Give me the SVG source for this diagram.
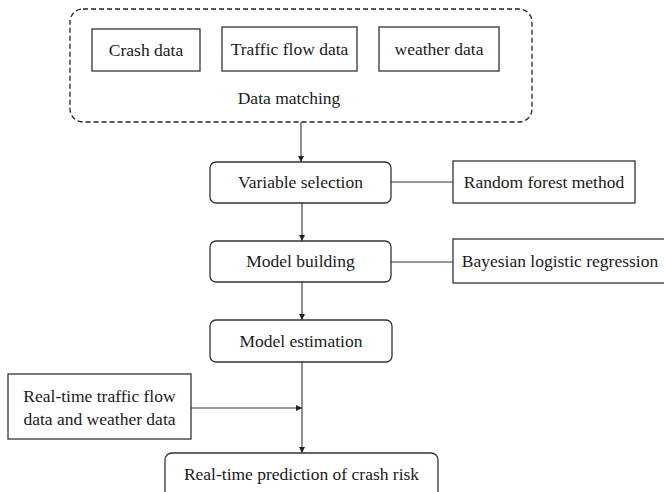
<svg xmlns="http://www.w3.org/2000/svg" width="664" height="492" viewBox="0 0 664 492">
<style>
.box{fill:#fff;stroke:#333;stroke-width:1.3}
text{font-family:'Liberation Serif','Times New Roman',serif;font-size:17.5px;fill:#1a1a1a;text-anchor:middle}
.ln{stroke:#333;stroke-width:1.1;fill:none}
.dash{fill:none;stroke:#222;stroke-width:1.3;stroke-dasharray:5 3}
</style>
<defs>
<marker id="ah" viewBox="0 0 10 10" refX="10" refY="5" markerWidth="6" markerHeight="6" orient="auto" markerUnits="userSpaceOnUse">
<path d="M0,0 L10,5 L0,10 z" fill="#222"/>
</marker>
</defs>
<rect width="664" height="492" fill="#fff"/>
<g id="data-matching">
<rect class="dash" x="70" y="9" width="462" height="113" rx="13"/>
<text x="289" y="104">Data matching</text>
</g>
<g id="crash-data">
<rect class="box" x="92" y="29" width="108" height="42"/>
<text x="146" y="56">Crash data</text>
</g>
<g id="traffic-flow-data">
<rect class="box" x="222" y="27" width="135" height="44"/>
<text x="289.5" y="55">Traffic flow data</text>
</g>
<g id="weather-data">
<rect class="box" x="379" y="27" width="120" height="44"/>
<text x="439" y="55">weather data</text>
</g>
<g id="variable-selection">
<rect class="box" x="210" y="162" width="181" height="41" rx="6"/>
<text x="300.5" y="188">Variable selection</text>
</g>
<g id="random-forest">
<rect class="box" x="453" y="161" width="182" height="42"/>
<text x="544" y="188">Random forest method</text>
</g>
<g id="model-building">
<rect class="box" x="210" y="241" width="181" height="41" rx="6"/>
<text x="300.5" y="267">Model building</text>
</g>
<g id="bayesian">
<rect class="box" x="453" y="239" width="215" height="44"/>
<text x="560" y="267">Bayesian logistic regression</text>
</g>
<g id="model-estimation">
<rect class="box" x="210" y="320" width="182" height="42" rx="6"/>
<text x="301" y="347">Model estimation</text>
</g>
<g id="realtime-data">
<rect class="box" x="8" y="374" width="183" height="65"/>
<text x="99.5" y="402">Real-time traffic flow</text>
<text x="99.5" y="425">data and weather data</text>
</g>
<g id="prediction">
<rect class="box" x="165" y="453" width="273" height="50" rx="7"/>
<text x="301.5" y="480">Real-time prediction of crash risk</text>
</g>
<g id="connectors">
<line class="ln" x1="301" y1="122" x2="301" y2="162" marker-end="url(#ah)"/>
<line class="ln" x1="391" y1="182" x2="453" y2="182"/>
<line class="ln" x1="302" y1="203" x2="302" y2="241" marker-end="url(#ah)"/>
<line class="ln" x1="391" y1="262" x2="453" y2="262"/>
<line class="ln" x1="302" y1="282" x2="302" y2="320" marker-end="url(#ah)"/>
<line class="ln" x1="302" y1="362" x2="302" y2="453" marker-end="url(#ah)"/>
<line class="ln" x1="191" y1="408" x2="302" y2="408" marker-end="url(#ah)"/>
</g>
</svg>
